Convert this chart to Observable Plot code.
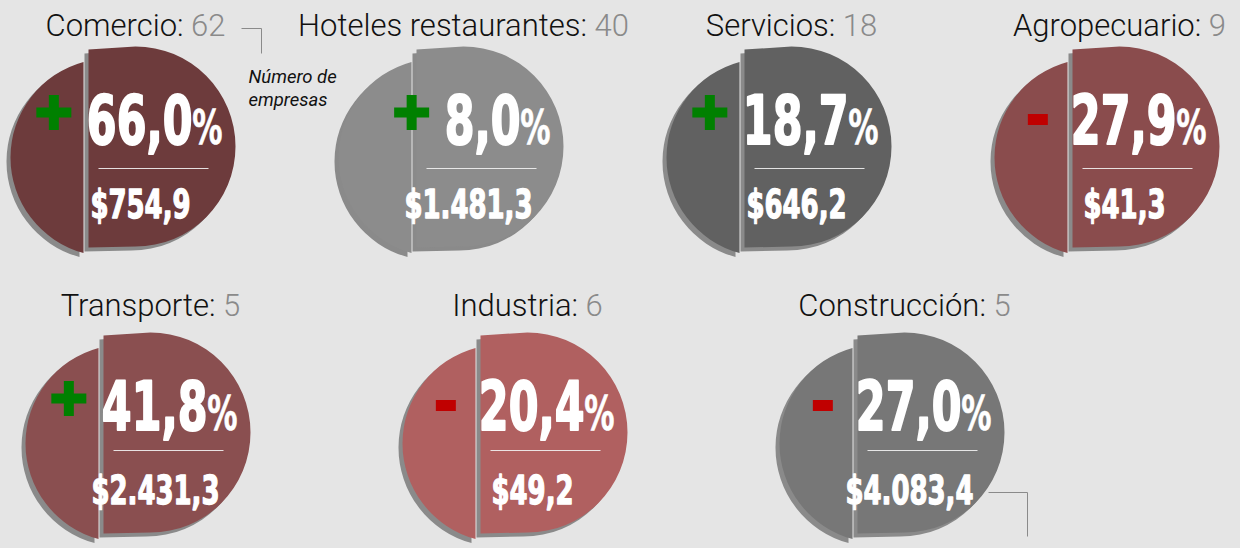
<!DOCTYPE html>
<html><head><meta charset="utf-8">
<script src="https://cdn.jsdelivr.net/npm/d3@7"></script>
<script src="https://cdn.jsdelivr.net/npm/@observablehq/plot@0.6"></script>
<style>
html,body{margin:0;padding:0;background:#e5e5e5;}
#chart{width:1240px;height:548px;overflow:hidden;}
#chart svg{display:block;}
</style></head><body><div id="chart"></div>
<script>
// ---- data ----
const categories = ["Comercio","Hoteles restaurantes","Servicios","Agropecuario","Transporte","Industria","Construcción"];
const companies  = [62, 40, 18, 9, 5, 6, 5];
const changePct  = [66.0, 8.0, 18.7, -27.9, 41.8, -20.4, -27.0];
const sales      = [754.9, 1481.3, 646.2, 41.3, 2431.3, 49.2, 4083.4];
const rowOf      = [0, 0, 0, 0, 1, 1, 1];
const colors     = ["#6d3b3c","#8c8c8c","#616161","#8a4c4d","#8a4f50","#b06060","#777777"];
const noteText   = "Número de\nempresas";

const data = categories.map((cat, i) => ({cat, n: companies[i], pct: changePct[i], sales: sales[i], row: rowOf[i]}));

const loc = d3.formatLocale({decimal: ",", thousands: ".", grouping: [3], currency: ["$", ""]});
const fmtPct = loc.format(".1f");
const fmtSales = loc.format("$,.1f");

// text measuring
const mctx = document.createElement("canvas").getContext("2d");
function textW(s, font) { mctx.font = font; return mctx.measureText(s).width; }

// ---- custom symbols (shape geometry) ----
const splitDisc = {draw(ctx) {
  // right piece: rounded "D"
  ctx.moveTo(0, -97); ctx.lineTo(47, -100);
  ctx.arc(47, 0, 100, -Math.PI / 2, Math.PI / 2, false);
  ctx.lineTo(0, 101); ctx.closePath();
  // left piece: segment of a circle, exploded down-left
  const cx = 21, cy = 11, R = 99, cut = -5;
  const h = Math.sqrt(R * R - (cx - cut) * (cx - cut));
  const a0 = Math.atan2(-h, cut - cx), a1 = Math.atan2(h, cut - cx);
  ctx.moveTo(cut, cy - h);
  ctx.arc(cx, cy, R, a0, a1, true);
  ctx.closePath();
}};
const plusSym = {draw(ctx) {
  const t = 5, w = 17.5;
  const p = [[-t,-w],[t,-w],[t,-t],[w,-t],[w,t],[t,t],[t,w],[-t,w],[-t,t],[-w,t],[-w,-t],[-t,-t]];
  p.forEach(([x, y], i) => i ? ctx.lineTo(x, y) : ctx.moveTo(x, y)); ctx.closePath();
}};
const minusSym = {draw(ctx) { ctx.moveTo(-10,-5.5); ctx.lineTo(10,-5.5); ctx.lineTo(10,5.5); ctx.lineTo(-10,5.5); ctx.closePath(); }};
const sepLine = {draw(ctx) { ctx.moveTo(10, 0); ctx.lineTo(120, 0); }};
const bracketTop = {draw(ctx) { ctx.moveTo(153, -118); ctx.lineTo(173, -118); ctx.lineTo(173, -93); }};
const bracketBottom = {draw(ctx) { ctx.moveTo(131, 60); ctx.lineTo(170, 60); ctx.lineTo(170, 104); }};

const rowsCfg = [
  {range: [87, 1072], cy: 146, titleDy: -111, sepDy: 22},
  {range: [103, 857], cy: 158, titleDy: -117, sepDy: 18}
];

const SX_PCT = 0.7, SX_VAL = 0.74; // horizontal compression of the condensed figures
const BIG_FAMILY = "'DejaVu Sans Condensed', 'DejaVu Sans'";
const TITLE_FONT = "300 31px Roboto";
const PCT_SIZE = 68;
const PCT_FONT = `bold ${PCT_SIZE}px ` + BIG_FAMILY;

function rowPlot(r) {
  const cfg = rowsCfg[r];
  const items = data.filter(d => d.row === r);
  const cy = cfg.cy;
  const common = {x: "cat", frameAnchor: "top"};
  const big = {fontWeight: "bold", fontFamily: BIG_FAMILY, fill: "white", stroke: "white", lineAnchor: "bottom"};
  const marks = [
    Plot.dot(items, {...common, symbol: splitDisc, r: 10, fill: "#8a8a8a", stroke: "none", dx: -4, dy: cy + 4}),
    Plot.dot(items, {...common, symbol: splitDisc, r: 10, fill: "cat", stroke: "none", dy: cy}),
    Plot.dot(items, {...common, symbol: sepLine, r: 10, fill: "none", stroke: "#f2f2f2", strokeWidth: 1, strokeOpacity: 0.9, dy: cy + cfg.sepDy}),
    Plot.text(items, {...common, ...big, className: "condp", text: d => fmtPct(Math.abs(d.pct)), textAnchor: "end", dx: 104, dy: cy - 3, fontSize: PCT_SIZE, strokeWidth: 2}),
    Plot.text(items, {...common, ...big, className: "condp", text: () => "%", textAnchor: "end", dx: 134, dy: cy - 3, fontSize: 48, strokeWidth: 0.6}),
    Plot.text(items, {...common, ...big, className: "condv", text: d => fmtSales(d.sales), textAnchor: "middle", dx: 52, dy: cy + 71, fontSize: 39, strokeWidth: 1.3})
  ];
  items.forEach(d => {
    const name = d.cat + ": ";
    const nw = textW(name, TITLE_FONT);
    const tw = nw + textW(String(d.n), TITLE_FONT);
    const x0 = 47 - tw / 2;
    marks.push(Plot.text([d], {...common, text: () => d.cat + ":", textAnchor: "start", lineAnchor: "bottom", dx: x0, dy: cy + cfg.titleDy,
      fontSize: 31, fontWeight: 300, fontFamily: "Roboto", fill: "#111"}));
    marks.push(Plot.text([d], {...common, text: () => String(d.n), textAnchor: "start", lineAnchor: "bottom", dx: x0 + nw, dy: cy + cfg.titleDy,
      fontSize: 31, fontWeight: 300, fontFamily: "Roboto", fill: "#8a8a8a"}));
    const pw = textW(fmtPct(Math.abs(d.pct)), PCT_FONT) * SX_PCT;
    const start = 104 - pw;
    const up = d.pct >= 0;
    marks.push(Plot.dot([d], {...common, symbol: up ? plusSym : minusSym, r: 10, fill: up ? "#008000" : "#c00000", stroke: "none",
      dx: start - 33, dy: cy + (up ? -34 : -27)}));
  });
  if (r === 0) {
    marks.push(Plot.dot(["Comercio"], {x: d => d, frameAnchor: "top", symbol: bracketTop, r: 10, fill: "none", stroke: "#8a8a8a", strokeWidth: 1, dy: cy}));
    marks.push(Plot.text(["Comercio"], {x: d => d, frameAnchor: "top", text: () => noteText, textAnchor: "start", lineAnchor: "top", lineHeight: 1.25,
      dx: 160, dy: cy - 80, fontSize: 18.5, fontStyle: "italic", fontFamily: "Roboto", fill: "#111"}));
  } else {
    marks.push(Plot.dot(["Construcción"], {x: d => d, frameAnchor: "top", symbol: bracketBottom, r: 10, fill: "none", stroke: "#8a8a8a", strokeWidth: 1, dy: cy}));
  }
  const svg = Plot.plot({
    width: 1240, height: 274, margin: 0,
    x: {type: "point", domain: items.map(d => d.cat), range: cfg.range, padding: 0, axis: null},
    color: {type: "ordinal", domain: categories, range: colors},
    style: {background: "transparent", overflow: "visible"},
    marks
  });
  // condense the big white figures around their anchor point
  [["condp", SX_PCT], ["condv", SX_VAL]].forEach(([cls, sx]) => {
    svg.querySelectorAll(`g.${cls} text`).forEach(t => {
      const tr = t.getAttribute("transform") || "";
      t.setAttribute("transform", tr + ` scale(${sx},1)`);
    });
  });
  return svg;
}

const el = document.getElementById("chart");
el.appendChild(rowPlot(0));
el.appendChild(rowPlot(1));
</script>
</body></html>
